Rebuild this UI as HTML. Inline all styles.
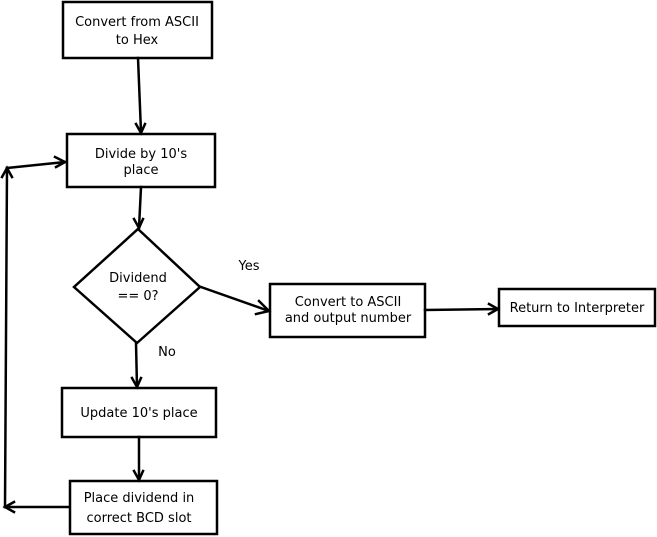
<!DOCTYPE html>
<html><head><style>
html,body{margin:0;padding:0;background:#fff;width:657px;height:537px;overflow:hidden}
</style></head><body>
<svg width="657" height="537" viewBox="0 0 657 537" xmlns="http://www.w3.org/2000/svg">
<g fill="none" stroke="#000" stroke-width="2.5" stroke-linecap="square" stroke-linejoin="miter">
<rect x="63" y="2" width="149" height="56"/>
<rect x="67" y="134" width="148" height="53"/>
<polygon points="138,229 200,287 137,343 74,287"/>
<rect x="270" y="284" width="155" height="53"/>
<rect x="499" y="289" width="156" height="37"/>
<rect x="62" y="388" width="154" height="49"/>
<rect x="70" y="481" width="147" height="53"/>
<path d="M138,58 L141,132"/>
<path d="M136,124 L141,133 L145,124"/>
<path d="M141,187 L139,228"/>
<path d="M134,219 L139,228 L143,219"/>
<path d="M201,287 L269,311"/>
<path d="M259,301 L269,311 L256,314"/>
<path d="M136,343 L137,387"/>
<path d="M132,378 L137,387 L141,378"/>
<path d="M139,437 L139,480"/>
<path d="M134,471 L139,480 L143,471"/>
<path d="M425,310 L498,309"/>
<path d="M489,304 L498,309 L489,314"/>
<path d="M69,507 L5,507"/>
<path d="M14,502 L5,507 L14,512"/>
<path d="M5,507 L7,168"/>
<path d="M2,177 L7,168 L12,177"/>
<path d="M7,168 L65,162"/>
<path d="M55,157 L65,162 L56,167"/>
</g>
<g text-anchor="middle" font-family="DejaVu Sans, Liberation Sans, sans-serif" font-size="13" fill="#000">
<text x="137" y="26">Convert from ASCII</text>
<text x="137" y="44">to Hex</text>
<text x="141" y="158">Divide by 10's</text>
<text x="141" y="174">place</text>
<text x="138" y="282">Dividend</text>
<text x="138" y="300">== 0?</text>
<text x="348" y="306">Convert to ASCII</text>
<text x="348" y="322">and output number</text>
<text x="577" y="312">Return to Interpreter</text>
<text x="139" y="417">Update 10's place</text>
<text x="139" y="502">Place dividend in</text>
<text x="139" y="522">correct BCD slot</text>
<text x="249" y="270">Yes</text>
<text x="167" y="356">No</text>
</g>
</svg>
</body></html>
